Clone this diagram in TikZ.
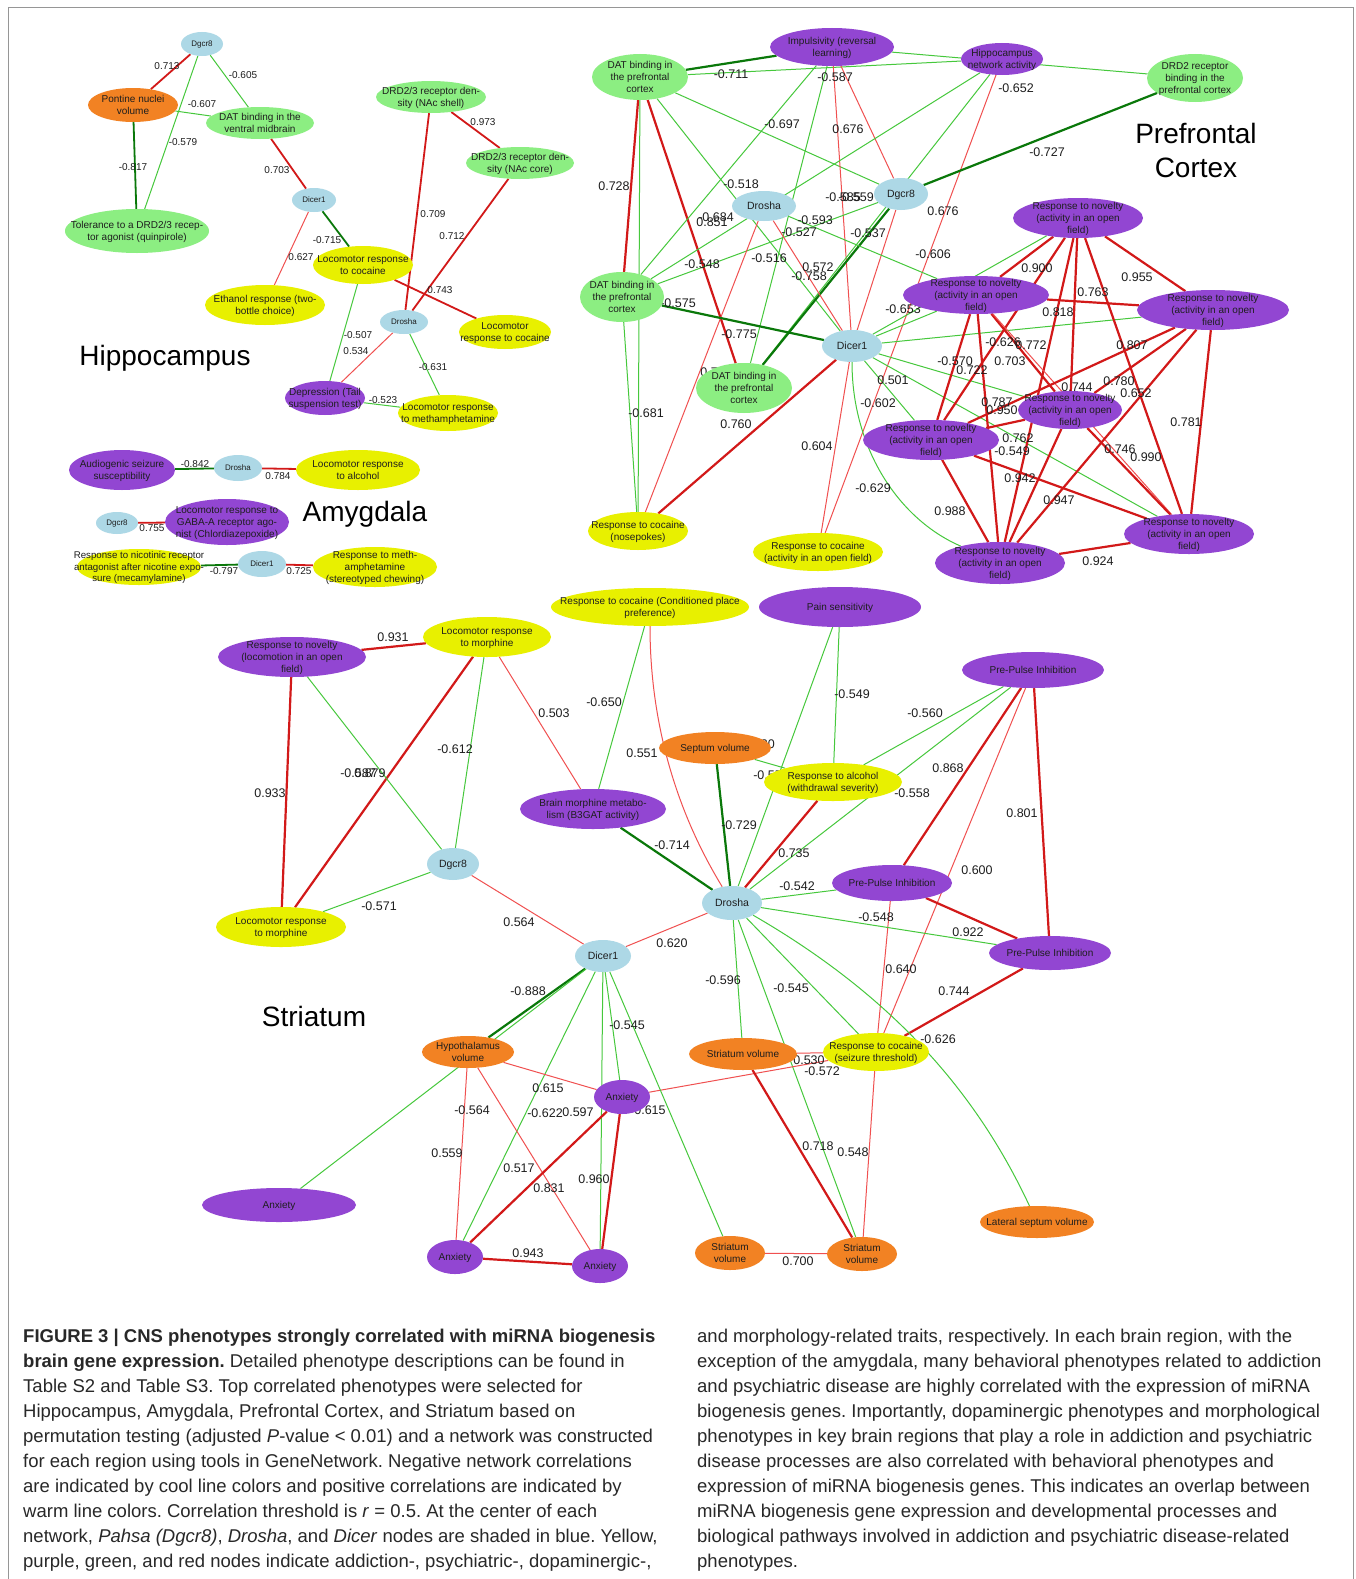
\documentclass[tikz,border=0pt]{standalone}
\usepackage{fontspec}
\setmainfont{Liberation Sans}
\usetikzlibrary{shapes.geometric}
\definecolor{cblue}{RGB}{173,216,230}
\definecolor{corg}{RGB}{242,130,35}
\definecolor{cgrn}{RGB}{140,238,130}
\definecolor{cyel}{RGB}{232,240,0}
\definecolor{cpur}{RGB}{146,70,210}
\definecolor{egl}{RGB}{70,200,60}
\definecolor{edg}{RGB}{10,120,10}
\definecolor{erl}{RGB}{240,80,80}
\definecolor{erd}{RGB}{210,25,25}
\definecolor{ctxt}{RGB}{30,30,30}
\definecolor{ccap}{RGB}{40,40,40}
\definecolor{cframe}{RGB}{150,150,150}
\pgfdeclarelayer{bg}\pgfdeclarelayer{edges}\pgfdeclarelayer{labels}
\pgfsetlayers{bg,edges,labels,main}
\frenchspacing
\newcommand\fs[2]{\fontsize{#1}{#2}\selectfont}
\newcommand\nt[1]{\smash{\makebox[0pt]{\raisebox{-0.36em}{\begin{tabular}{@{}c@{}}#1\end{tabular}}}}}
\newcommand\mkn[7][]{\node[ph,fill=#2,minimum width=#5,minimum height=#6,#1] (#3) at (#4) {\nt{#7}};}
\newcounter{labc}
\newcommand\lab[2]{\stepcounter{labc}\node[lb] (lab\arabic{labc}) at (#1) {#2};}
\newcommand\labs[2]{\stepcounter{labc}\node[lbs] (lab\arabic{labc}) at (#1) {#2};}
\newcounter{capc}
\newcommand\capl[2]{\stepcounter{capc}\node[capt] (cap\arabic{capc}) at (#1) {#2};}
\tikzset{
  ph/.style={ellipse, inner sep=0pt, text=ctxt, font=\fs{10}{12}},
  gsm/.style={font=\fs{8}{10}},
  gbig/.style={font=\fs{10.5}{12}},
  lb/.style={font=\fs{12.5}{14}, text=ctxt, inner sep=0pt},
  lbs/.style={font=\fs{10}{12}, text=ctxt, inner sep=0pt},
  ttl/.style={font=\fs{28}{34}, text=black, align=center, inner sep=0pt},
  capt/.style={font=\fs{18.5}{25}, text=ccap, inner sep=0pt, anchor=base west},
  gl/.style={draw=egl, line width=1pt},
  dg/.style={draw=edg, line width=2.2pt},
  rl/.style={draw=erl, line width=1pt},
  rd/.style={draw=erd, line width=2.2pt},
}
\begin{document}
\begin{tikzpicture}[x=1pt,y=-1pt]
\useasboundingbox (0,0) rectangle (1356,1579);
\begin{pgfonlayer}{bg}
\fill[white] (0,0) rectangle (1356,1579);
\draw[cframe, line width=1pt] (8,1579) -- (8,8) -- (1353,8) -- (1353,1579);
\end{pgfonlayer}

%%%%%%%%%%%%%%%% HIPPOCAMPUS
\mkn[gsm]{cblue}{hDg}{202,44}{42}{24}{Dgcr8}
\mkn{corg}{hPon}{133,105}{90}{34}{Pontine nuclei\\volume}
\mkn{cgrn}{hDAT}{260,123}{108}{32}{DAT binding in the\\ventral midbrain}
\mkn{cgrn}{hTol}{137,231}{144}{44}{Tolerance to a DRD2/3 recep-\\tor agonist (quinpirole)}
\mkn[gsm]{cblue}{hDi}{314,200}{44}{24}{Dicer1}
\mkn{cyel}{hLoc}{363,265}{100}{38}{Locomotor response\\to cocaine}
\mkn{cyel}{hEth}{265,305}{120}{40}{Ethanol response (two-\\bottle choice)}
\mkn[gsm]{cblue}{hDr}{404,322}{48}{24}{Drosha}
\mkn{cgrn}{hShell}{431,97}{110}{32}{DRD2/3 receptor den-\\sity (NAc shell)}
\mkn{cgrn}{hCore}{520,163}{108}{32}{DRD2/3 receptor den-\\sity (NAc core)}
\mkn{cyel}{hLoc2}{505,332}{92}{34}{Locomotor\\response to cocaine}
\mkn{cyel}{hMeth}{448,413}{100}{36}{Locomotor response\\to methamphetamine}
\mkn{cpur}{hDep}{325,398}{80}{34}{Depression (Tail\\suspension test)}
\node[ttl] (tHip) at (165,358) {Hippocampus};

%%%%%%%%%%%%%%%% AMYGDALA
\mkn{cpur}{aAud}{122,470}{106}{40}{Audiogenic seizure\\susceptibility}
\mkn[gsm]{cblue}{aDr}{238,468}{48}{26}{Drosha}
\mkn{cyel}{aAlc}{358,470}{124}{40}{Locomotor response\\to alcohol}
\mkn[gsm]{cblue}{aDg}{117,523}{42}{22}{Dgcr8}
\mkn{cpur}{aGab}{227,522}{124}{46}{Locomotor response to\\GABA-A receptor ago-\\nist (Chlordiazepoxide)}
\mkn[font=\fs{9.7}{11.6}]{cyel}{aNic}{139,567}{124}{36}{Response to nicotinic receptor\\antagonist after nicotine expo-\\sure (mecamylamine)}
\mkn[gsm]{cblue}{aDi}{262,564}{48}{26}{Dicer1}
\mkn{cyel}{aMeth}{375,567}{124}{40}{Response to meth-\\amphetamine\\(stereotyped chewing)}
\node[ttl] (tAmy) at (365,514) {Amygdala};

%%%%%%%%%%%%%%%% PREFRONTAL CORTEX
\mkn{cgrn}{pDATt}{640,77}{96}{46}{DAT binding in\\the prefrontal\\cortex}
\mkn{cpur}{pImp}{832,47}{124}{38}{Impulsivity (reversal\\learning)}
\mkn{cpur}{pHip}{1002,59}{82}{32}{Hippocampus\\network activity}
\mkn{cgrn}{pDRD}{1195,78}{96}{48}{DRD2 receptor\\binding in the\\prefrontal cortex}
\mkn[gbig]{cblue}{pDr}{764,206}{64}{30}{Drosha}
\mkn[gbig]{cblue}{pDg}{901,194}{54}{32}{Dgcr8}
\mkn{cgrn}{pDATl}{622,297}{84}{50}{DAT binding in\\the prefrontal\\cortex}
\mkn[gbig]{cblue}{pDi}{852,346}{60}{32}{Dicer1}
\mkn{cgrn}{pDATm}{744,388}{96}{50}{DAT binding in\\the prefrontal\\cortex}
\mkn{cyel}{pNose}{638,531}{100}{38}{Response to cocaine\\(nosepokes)}
\mkn{cyel}{pCoc}{818,552}{130}{38}{Response to cocaine\\(activity in an open field)}
\mkn{cpur}{pN1}{1078,218}{130}{40}{Response to novelty\\(activity in an open\\field)}
\mkn{cpur}{pN2}{976,295}{146}{38}{Response to novelty\\(activity in an open\\field)}
\mkn{cpur}{pN3}{1213,310}{152}{40}{Response to novelty\\(activity in an open\\field)}
\mkn{cpur}{pN4}{1070,410}{104}{38}{Response to novelty\\(activity in an open\\field)}
\mkn{cpur}{pN5}{931,440}{136}{40}{Response to novelty\\(activity in an open\\field)}
\mkn{cpur}{pN6}{1000,563}{130}{42}{Response to novelty\\(activity in an open\\field)}
\mkn{cpur}{pN7}{1189,534}{130}{40}{Response to novelty\\(activity in an open\\field)}
\node[ttl] (tPfc) at (1196,150) {Prefrontal\\Cortex};

%%%%%%%%%%%%%%%% STRIATUM
\mkn{cpur}{sNov}{292,657}{148}{40}{Response to novelty\\(locomotion in an open\\field)}
\mkn{cyel}{sLMt}{487,637}{128}{40}{Locomotor response\\to morphine}
\mkn{cyel}{sCPP}{650,607}{198}{38}{Response to cocaine (Conditioned place\\preference)}
\mkn{cpur}{sPain}{840,607}{162}{40}{Pain sensitivity}
\mkn{cpur}{sPPIt}{1033,670}{142}{36}{Pre-Pulse Inhibition}
\mkn{corg}{sSep}{715,748}{112}{32}{Septum volume}
\mkn{cyel}{sAlc}{833,782}{138}{38}{Response to alcohol\\(withdrawal severity)}
\mkn{cpur}{sBM}{593,809}{146}{40}{Brain morphine metabo-\\lism (B3GAT activity)}
\mkn{cpur}{sPPIm}{892,883}{120}{36}{Pre-Pulse Inhibition}
\mkn[gbig]{cblue}{sDr}{732,903}{60}{34}{Drosha}
\mkn[gbig]{cblue}{sDg}{453,864}{52}{32}{Dgcr8}
\mkn{cyel}{sLMb}{281,927}{130}{40}{Locomotor response\\to morphine}
\mkn{cpur}{sPPIr}{1050,953}{122}{34}{Pre-Pulse Inhibition}
\mkn[gbig]{cblue}{sDi}{603,956}{56}{32}{Dicer1}
\mkn{corg}{sHyp}{468,1052}{92}{32}{Hypothalamus\\volume}
\mkn{corg}{sSVm}{743,1054}{108}{32}{Striatum volume}
\mkn{cyel}{sSeiz}{876,1052}{106}{38}{Response to cocaine\\(seizure threshold)}
\mkn{cpur}{sAxC}{622,1097}{56}{34}{Anxiety}
\mkn{cpur}{sAxL}{279,1205}{154}{34}{Anxiety}
\mkn{cpur}{sAxBL}{455,1257}{56}{34}{Anxiety}
\mkn{cpur}{sAxBR}{600,1266}{56}{34}{Anxiety}
\mkn{corg}{sSVbl}{730,1253}{70}{34}{Striatum\\volume}
\mkn{corg}{sSVbr}{862,1254}{70}{34}{Striatum\\volume}
\mkn{corg}{sLat}{1037,1222}{114}{32}{Lateral septum volume}
\node[ttl] (tStr) at (314,1016) {Striatum};

%%%%%%%%%%%%%%%% EDGES
\begin{pgfonlayer}{edges}
% hippocampus
\draw[rd, line width=1.8pt] (hDg) -- (hPon);
\draw[gl] (hDg) -- (hDAT);
\draw[gl] (hDg) -- (hTol);
\draw[gl] (hPon) -- (hDAT);
\draw[dg, line width=1.8pt] (hPon) -- (hTol);
\draw[rd, line width=1.8pt] (hDAT) -- (hDi);
\draw[dg, line width=1.8pt] (hDi) -- (hLoc);
\draw[rl] (hDi) -- (hEth);
\draw[rd, line width=1.8pt] (hShell) -- (hDr);
\draw[rd, line width=1.8pt] (hShell) -- (hCore);
\draw[rd, line width=1.8pt] (hCore) -- (hDr);
\draw[rd, line width=1.8pt] (hLoc) -- (hLoc2);
\draw[gl] (hLoc) -- (hDep);
\draw[rl] (hDr) -- (hDep);
\draw[gl] (hDr) -- (hMeth);
\draw[gl] (hDep) -- (hMeth);
% amygdala
\draw[dg, line width=1.8pt] (aAud) -- (aDr);
\draw[rd, line width=1.8pt] (aDr) -- (aAlc);
\draw[rd, line width=1.8pt] (aDg) -- (aGab);
\draw[dg, line width=1.8pt] (aNic) -- (aDi);
\draw[rd, line width=1.8pt] (aDi) -- (aMeth);
% prefrontal
\draw[dg] (pDATt) -- (pImp);
\draw[gl] (pDATt) -- (pHip);
\draw[gl] (pImp) -- (pDRD);
\draw[rd] (pDATt) -- (pDATl);
\draw[gl] (pDATt) -- (pNose);
\draw[gl] (pDATl) -- (pNose);
\draw[rd] (pDATt) -- (pDATm);
\draw[gl] (pDATt) -- (pDi);
\draw[gl] (pDATt) -- (pDg);
\draw[gl] (pImp) -- (pDATl);
\draw[gl] (pImp) -- (pDATm);
\draw[rl] (pImp) -- (pDi);
\draw[rl] (pImp) -- (pDg);
\draw[rl] (pHip) -- (pCoc);
\draw[gl] (pHip) -- (pDATl);
\draw[gl] (pHip) -- (pDATm);
\draw[dg] (pDg) -- (pDRD);
\draw[dg] (pDg) -- (pDATm);
\draw[gl] (pDg) -- (pDATl);
\draw[rl] (pDg) -- (pDi);
\draw[rl] (pDr) -- (pNose);
\draw[rl] (pDr) -- (pDi);
\draw[gl] (pDr) -- (pN2);
\draw[dg] (pDATl) -- (pDi);
\draw[rd] (pDi) -- (pNose);
\draw[rl] (pDi) -- (pCoc);
\draw[gl] (pDi) -- (pN1);
\draw[gl] (pDi) -- (pN2);
\draw[gl] (pDi) -- (pN3);
\draw[gl] (pDi) -- (pN4);
\draw[gl] (pDi) -- (pN5);
\draw[gl] (pDi) -- (pN7);
\draw[gl] (pDi) .. controls (852,450) and (900,520) .. (pN6);
\draw[rd] (pN1) -- (pN2);
\draw[rd] (pN1) -- (pN3);
\draw[rd] (pN1) -- (pN4);
\draw[rd] (pN1) -- (pN5);
\draw[rd] (pN1) -- (pN6);
\draw[rd] (pN1) -- (pN7);
\draw[rd] (pN2) -- (pN3);
\draw[rd] (pN2) -- (pN4);
\draw[rd] (pN2) -- (pN5);
\draw[rd] (pN2) -- (pN6);
\draw[rl] (pN2) -- (pN7);
\draw[rd] (pN3) -- (pN4);
\draw[rd] (pN3) -- (pN5);
\draw[rd] (pN3) -- (pN6);
\draw[rd] (pN3) -- (pN7);
\draw[rd] (pN4) -- (pN5);
\draw[rd] (pN4) -- (pN6);
\draw[rd] (pN4) -- (pN7);
\draw[rd] (pN5) -- (pN6);
\draw[rd] (pN5) -- (pN7);
\draw[rd] (pN6) -- (pN7);
% striatum
\draw[rd] (sNov) -- (sLMt);
\draw[rd] (sNov) -- (sLMb);
\draw[rd] (sLMt) -- (sLMb);
\draw[gl] (sNov) -- (sDg);
\draw[gl] (sLMt) -- (sDg);
\draw[gl] (sDg) -- (sLMb);
\draw[rl] (sLMt) -- (sBM);
\draw[rl] (sDg) -- (sDi);
\draw[gl] (sCPP) -- (sBM);
\draw[rl] (sCPP) .. controls (650,760) and (700,850) .. (sDr);
\draw[gl] (sPain) -- (sDr);
\draw[gl] (sPain) -- (sAlc);
\draw[gl] (sSep) -- (sAlc);
\draw[dg] (sSep) -- (sDr);
\draw[dg] (sBM) -- (sDr);
\draw[rd] (sAlc) -- (sDr);
\draw[gl] (sPPIt) -- (sAlc);
\draw[gl] (sPPIt) -- (sDr);
\draw[rd] (sPPIt) -- (sPPIm);
\draw[rl] (sPPIt) -- (sSeiz);
\draw[rd] (sPPIt) -- (sPPIr);
\draw[gl] (sDr) -- (sPPIm);
\draw[rd] (sPPIm) -- (sPPIr);
\draw[rl] (sPPIm) -- (sSeiz);
\draw[gl] (sDr) -- (sPPIr);
\draw[rd] (sPPIr) -- (sSeiz);
\draw[rl] (sDr) -- (sDi);
\draw[gl] (sDr) -- (sSVm);
\draw[gl] (sDr) -- (sSVbr);
\draw[gl] (sDr) -- (sSeiz);
\draw[gl] (sDr) .. controls (900,1000) and (980,1100) .. (sLat);
\draw[rl] (sSVm) -- (sSeiz);
\draw[rl] (sAxC) -- (sSeiz);
\draw[rd] (sSVm) -- (sSVbr);
\draw[rl] (sSeiz) -- (sSVbr);
\draw[rl] (sSVbl) -- (sSVbr);
\draw[gl] (sDi) -- (sSVbl);
\draw[gl] (sDi) -- (sAxC);
\draw[dg] (sDi) -- (sHyp);
\draw[gl] (sDi) -- (sAxL);
\draw[gl] (sDi) -- (sAxBL);
\draw[gl] (sDi) -- (sAxBR);
\draw[rl] (sHyp) -- (sAxC);
\draw[rl] (sHyp) -- (sAxBL);
\draw[rl] (sHyp) -- (sAxBR);
\draw[rd] (sAxC) -- (sAxBL);
\draw[rd] (sAxC) -- (sAxBR);
\draw[rd] (sAxBL) -- (sAxBR);
\end{pgfonlayer}

%%%%%%%%%%%%%%%% LABELS
\begin{pgfonlayer}{labels}
% hippocampus
\labs{167,66}{0.713}
\labs{243,75}{-0.605}
\labs{183,142}{-0.579}
\labs{202,104}{-0.607}
\labs{133,167}{-0.817}
\labs{277,170}{0.703}
\labs{327,240}{-0.715}
\labs{301,257}{0.627}
\labs{433,214}{0.709}
\labs{483,122}{0.973}
\labs{452,236}{0.712}
\labs{440,290}{0.743}
\labs{358,335}{-0.507}
\labs{356,351}{0.534}
\labs{433,367}{-0.631}
\labs{383,400}{-0.523}
% amygdala
\labs{195,464}{-0.842}
\labs{278,476}{0.784}
\labs{152,528}{0.755}
\labs{224,571}{-0.797}
\labs{299,571}{0.725}
% prefrontal
\lab{731,74}{-0.711}
\lab{835,77}{-0.587}
\lab{1016,88}{-0.652}
\lab{782,124}{-0.697}
\lab{848,129}{0.676}
\lab{1047,152}{-0.727}
\lab{614,186}{0.728}
\lab{741,184}{-0.518}
\lab{843,197}{-0.585}
\lab{856,197}{-0.559}
\lab{943,211}{0.676}
\lab{712,222}{0.851}
\lab{716,217}{-0.684}
\lab{815,220}{-0.593}
\lab{799,232}{-0.527}
\lab{868,233}{-0.537}
\lab{933,254}{-0.606}
\lab{702,264}{-0.548}
\lab{769,258}{-0.516}
\lab{818,267}{0.572}
\lab{809,276}{-0.758}
\lab{678,303}{-0.575}
\lab{739,334}{-0.775}
\lab{716,372}{0.704}
\lab{646,413}{-0.681}
\lab{736,424}{0.760}
\lab{817,446}{0.604}
\lab{873,488}{-0.629}
\lab{1037,268}{0.900}
\lab{1137,277}{0.955}
\lab{1093,292}{0.763}
\lab{1058,312}{0.818}
\lab{1003,342}{-0.626}
\lab{1031,345}{0.772}
\lab{903,309}{-0.653}
\lab{1132,345}{0.807}
\lab{955,361}{-0.570}
\lab{972,370}{0.722}
\lab{1010,361}{0.703}
\lab{893,380}{0.501}
\lab{878,403}{-0.602}
\lab{1077,387}{0.744}
\lab{1119,381}{0.780}
\lab{1136,393}{0.652}
\lab{997,402}{0.787}
\lab{1002,410}{0.950}
\lab{1018,438}{0.762}
\lab{1012,451}{-0.549}
\lab{1120,449}{0.746}
\lab{1146,457}{0.990}
\lab{1186,422}{0.781}
\lab{950,511}{0.988}
\lab{1020,478}{0.942}
\lab{1059,500}{0.947}
\lab{1098,561}{0.924}
% striatum
\lab{393,637}{0.931}
\lab{270,793}{0.933}
\lab{358,773}{-0.587}
\lab{370,773}{0.879}
\lab{455,749}{-0.612}
\lab{554,713}{0.503}
\lab{604,702}{-0.650}
\lab{642,753}{0.551}
\lab{379,906}{-0.571}
\lab{519,922}{0.564}
\lab{852,694}{-0.549}
\lab{925,713}{-0.560}
\lab{757,744}{-0.530}
\lab{771,775}{-0.557}
\lab{739,825}{-0.729}
\lab{672,845}{-0.714}
\lab{794,853}{0.735}
\lab{912,793}{-0.558}
\lab{948,768}{0.868}
\lab{977,870}{0.600}
\lab{1022,813}{0.801}
\lab{797,886}{-0.542}
\lab{876,917}{-0.548}
\lab{968,932}{0.922}
\lab{901,969}{0.640}
\lab{954,991}{0.744}
\lab{672,943}{0.620}
\lab{723,980}{-0.596}
\lab{791,988}{-0.545}
\lab{938,1039}{-0.626}
\lab{809,1060}{0.530}
\lab{822,1071}{-0.572}
\lab{818,1146}{0.718}
\lab{853,1152}{0.548}
\lab{798,1261}{0.700}
\lab{650,1110}{0.615}
\lab{528,991}{-0.888}
\lab{627,1025}{-0.545}
\lab{548,1088}{0.615}
\lab{472,1110}{-0.564}
\lab{545,1113}{-0.622}
\lab{578,1112}{0.597}
\lab{447,1153}{0.559}
\lab{519,1168}{0.517}
\lab{549,1188}{0.831}
\lab{594,1179}{0.960}
\lab{528,1253}{0.943}
\end{pgfonlayer}

%%%%%%%%%%%%%%%% CAPTION
\capl{23,1342}{\textbf{FIGURE 3 | CNS phenotypes strongly correlated with miRNA biogenesis}}
\capl{23,1367}{\textbf{brain gene expression.} Detailed phenotype descriptions can be found in}
\capl{23,1392}{Table S2 and Table S3. Top correlated phenotypes were selected for}
\capl{23,1417}{Hippocampus, Amygdala, Prefrontal Cortex, and Striatum based on}
\capl{23,1442}{permutation testing (adjusted \textit{P}-value < 0.01) and a network was constructed}
\capl{23,1467}{for each region using tools in GeneNetwork. Negative network correlations}
\capl{23,1492}{are indicated by cool line colors and positive correlations are indicated by}
\capl{23,1517}{warm line colors. Correlation threshold is \textit{r} = 0.5. At the center of each}
\capl{23,1542}{network, \textit{Pahsa (Dgcr8)}, \textit{Drosha}, and \textit{Dicer} nodes are shaded in blue. Yellow,}
\capl{23,1567}{purple, green, and red nodes indicate addiction-, psychiatric-, dopaminergic-,}
\capl{697,1342}{and morphology-related traits, respectively. In each brain region, with the}
\capl{697,1367}{exception of the amygdala, many behavioral phenotypes related to addiction}
\capl{697,1392}{and psychiatric disease are highly correlated with the expression of miRNA}
\capl{697,1417}{biogenesis genes. Importantly, dopaminergic phenotypes and morphological}
\capl{697,1442}{phenotypes in key brain regions that play a role in addiction and psychiatric}
\capl{697,1467}{disease processes are also correlated with behavioral phenotypes and}
\capl{697,1492}{expression of miRNA biogenesis genes. This indicates an overlap between}
\capl{697,1517}{miRNA biogenesis gene expression and developmental processes and}
\capl{697,1542}{biological pathways involved in addiction and psychiatric disease-related}
\capl{697,1567}{phenotypes.}
\end{tikzpicture}
\end{document}
